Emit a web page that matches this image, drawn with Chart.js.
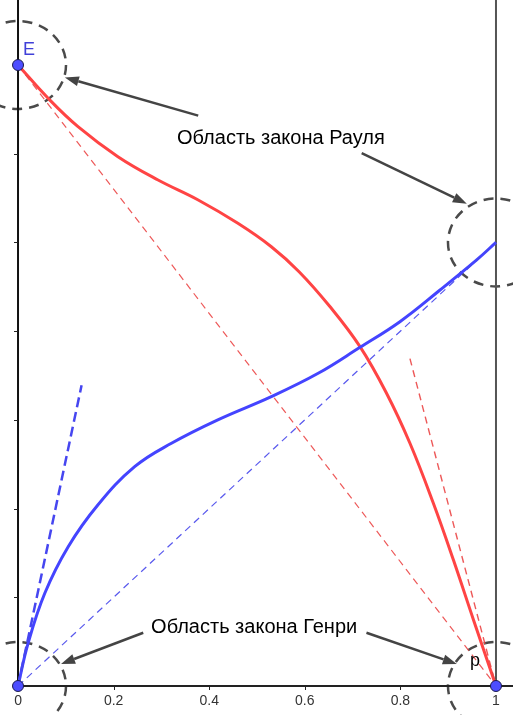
<!DOCTYPE html>
<html>
<head>
<meta charset="utf-8">
<script src="https://cdn.jsdelivr.net/npm/chart.js@4/dist/chart.umd.min.js"></script>
<style>
  html, body { margin: 0; padding: 0; background: #fff; }
  canvas { display: block; }
</style>
</head>
<body>
<canvas id="phaseChart" width="513" height="715"></canvas>
<script>
// curve values (x = mole fraction, y = pressure units)
const redX = [0, 0.063, 0.1255, 0.209, 0.293, 0.377, 0.460, 0.530, 0.588, 0.652, 0.7155, 0.771, 0.820, 0.869, 0.911, 0.953, 1];
const redY = [7, 6.625, 6.305, 5.967, 5.704, 5.479, 5.216, 4.952, 4.67, 4.28, 3.825, 3.30, 2.736, 2.06, 1.42, 0.744, 0];
const blueX = [0, 0.021, 0.056, 0.105, 0.167, 0.244, 0.321, 0.418, 0.530, 0.628, 0.7155, 0.799, 0.883, 0.959, 1];
const blueY = [0, 0.48, 1.045, 1.57, 2.04, 2.472, 2.736, 3.0, 3.262, 3.525, 3.818, 4.107, 4.464, 4.80, 5.0];

// straight reference lines
const raoultRed = [[0, 7], [1, 0]];
const raoultBlue = [[0, 0], [1, 5]];
const henryBlue = [[0, 0], [0.133, 3.39]];
const henryRed = [[0.82, 3.69], [1, 0]];

const xTicks = [0, 0.2, 0.4, 0.6, 0.8, 1];
const xTickLabels = ["0", "0.2", "0.4", "0.6", "0.8", "1"];
const yTicks = [1, 2, 3, 4, 5, 6, 7];

const markedPoints = [[0, 7], [0, 0], [1, 0]];
const regionCenters = [[0, 7], [1, 5], [0, 0], [1, 0]];

const labelRaoult = "Область закона Рауля";
const labelHenry = "Область закона Генри";

// arrows: [tailX, tailY, headX, headY]
const arrows = [
  [0.377, 6.43, 0.098, 6.86],
  [0.719, 6.006, 0.939, 5.436],
  [0.262, 0.60, 0.090, 0.248],
  [0.729, 0.60, 0.918, 0.248]
];

function toXY(xs, ys) {
  return xs.map((x, i) => ({ x: x, y: ys[i] }));
}
function pairs(arr) {
  return arr.map(p => ({ x: p[0], y: p[1] }));
}

const drawExtras = {
  id: "drawExtras",
  beforeDatasetsDraw(chart) {
    const ctx = chart.ctx;
    const sx = chart.scales.x, sy = chart.scales.y;
    const x0 = sx.getPixelForValue(0), x1 = sx.getPixelForValue(1);
    const y0 = sy.getPixelForValue(0);
    ctx.save();
    // dashed region ellipses
    ctx.strokeStyle = "#4a4a4a";
    ctx.lineWidth = 2.5;
    ctx.setLineDash([10, 7]);
    regionCenters.forEach(c => {
      ctx.beginPath();
      ctx.ellipse(sx.getPixelForValue(c[0]), sy.getPixelForValue(c[1]), 48, 44, 0, 0, Math.PI * 2);
      ctx.stroke();
    });
    ctx.setLineDash([]);
    // right border line at x = 1
    ctx.strokeStyle = "#555";
    ctx.lineWidth = 2;
    ctx.beginPath();
    ctx.moveTo(x1, chart.chartArea.top);
    ctx.lineTo(x1, y0);
    ctx.stroke();
    // y axis
    ctx.strokeStyle = "#111";
    ctx.beginPath();
    ctx.moveTo(x0, chart.chartArea.top);
    ctx.lineTo(x0, y0);
    ctx.stroke();
    // x axis
    ctx.strokeStyle = "#222";
    ctx.beginPath();
    ctx.moveTo(x0, y0);
    ctx.lineTo(chart.chartArea.right, y0);
    ctx.stroke();
    // ticks
    ctx.lineWidth = 1;
    ctx.strokeStyle = "#222";
    yTicks.forEach(t => {
      const py = Math.round(sy.getPixelForValue(t)) + 0.5;
      ctx.beginPath();
      ctx.moveTo(x0 - 4, py);
      ctx.lineTo(x0, py);
      ctx.stroke();
    });
    xTicks.forEach(t => {
      const px = Math.round(sx.getPixelForValue(t)) + 0.5;
      ctx.beginPath();
      ctx.moveTo(px, y0);
      ctx.lineTo(px, y0 + 4);
      ctx.stroke();
    });
    // tick labels
    ctx.fillStyle = "#333";
    ctx.font = "14px 'Liberation Sans', Arial, sans-serif";
    ctx.textAlign = "center";
    ctx.textBaseline = "alphabetic";
    xTicks.forEach((t, i) => {
      ctx.fillText(xTickLabels[i], sx.getPixelForValue(t), y0 + 19);
    });
    ctx.restore();
  },
  afterDatasetsDraw(chart) {
    const ctx = chart.ctx;
    const sx = chart.scales.x, sy = chart.scales.y;
    ctx.save();
    // arrows
    ctx.strokeStyle = "#444";
    ctx.fillStyle = "#444";
    ctx.lineWidth = 2.5;
    arrows.forEach(a => {
      const tx = sx.getPixelForValue(a[0]), ty = sy.getPixelForValue(a[1]);
      const hx = sx.getPixelForValue(a[2]), hy = sy.getPixelForValue(a[3]);
      const ang = Math.atan2(hy - ty, hx - tx);
      const len = 14;
      const bx = hx - len * Math.cos(ang), by = hy - len * Math.sin(ang);
      ctx.beginPath();
      ctx.moveTo(tx, ty);
      ctx.lineTo(bx, by);
      ctx.stroke();
      ctx.beginPath();
      ctx.moveTo(hx, hy);
      ctx.lineTo(bx + 5 * Math.sin(ang), by - 5 * Math.cos(ang));
      ctx.lineTo(bx - 5 * Math.sin(ang), by + 5 * Math.cos(ang));
      ctx.closePath();
      ctx.fill();
    });
    // region labels
    ctx.fillStyle = "#000";
    ctx.font = "20px 'Liberation Sans', Arial, sans-serif";
    ctx.textAlign = "center";
    ctx.textBaseline = "alphabetic";
    ctx.fillText(labelRaoult, sx.getPixelForValue(0.550), sy.getPixelForValue(6.115));
    ctx.fillText(labelHenry, sx.getPixelForValue(0.494), sy.getPixelForValue(0.597));
    // marked points
    markedPoints.forEach(p => {
      ctx.beginPath();
      ctx.arc(sx.getPixelForValue(p[0]), sy.getPixelForValue(p[1]), 5.5, 0, Math.PI * 2);
      ctx.fillStyle = "#4d4dff";
      ctx.fill();
      ctx.lineWidth = 1;
      ctx.strokeStyle = "#1a1a4d";
      ctx.stroke();
    });
    // point names
    ctx.textAlign = "left";
    ctx.font = "18px 'Liberation Sans', Arial, sans-serif";
    ctx.fillStyle = "#4040d8";
    ctx.fillText("E", sx.getPixelForValue(0) + 5, sy.getPixelForValue(7) - 10);
    ctx.fillStyle = "#000";
    ctx.fillText("p", sx.getPixelForValue(1) - 26, sy.getPixelForValue(0) - 20);
    ctx.restore();
  }
};

const ctx = document.getElementById("phaseChart").getContext("2d");
const myChart = new Chart(ctx, {
  type: "scatter",
  data: {
    datasets: [
      {
        data: pairs(raoultRed),
        showLine: true,
        borderColor: "rgba(235,70,70,0.9)",
        borderWidth: 1.2,
        borderDash: [7, 5],
        pointRadius: 0
      },
      {
        data: pairs(raoultBlue),
        showLine: true,
        borderColor: "rgba(70,70,235,0.9)",
        borderWidth: 1.2,
        borderDash: [7, 5],
        pointRadius: 0
      },
      {
        data: pairs(henryRed),
        showLine: true,
        borderColor: "rgba(235,70,70,0.9)",
        borderWidth: 1.4,
        borderDash: [7, 5],
        pointRadius: 0
      },
      {
        data: pairs(henryBlue),
        showLine: true,
        borderColor: "rgb(70,70,240)",
        borderWidth: 2.5,
        borderDash: [10, 5],
        pointRadius: 0
      },
      {
        data: toXY(blueX, blueY),
        showLine: true,
        borderColor: "rgb(68,68,255)",
        borderWidth: 3,
        tension: 0.4,
        pointRadius: 0
      },
      {
        data: toXY(redX, redY),
        showLine: true,
        borderColor: "rgb(255,68,68)",
        borderWidth: 3,
        tension: 0.4,
        pointRadius: 0
      }
    ]
  },
  options: {
    responsive: false,
    animation: false,
    devicePixelRatio: 1,
    layout: { padding: 0 },
    plugins: { legend: { display: false }, tooltip: { enabled: false } },
    scales: {
      x: { type: "linear", display: false, min: -0.0377, max: 1.0356 },
      y: { type: "linear", display: false, min: -0.327, max: 7.733 }
    }
  },
  plugins: [drawExtras]
});
</script>
</body>
</html>
